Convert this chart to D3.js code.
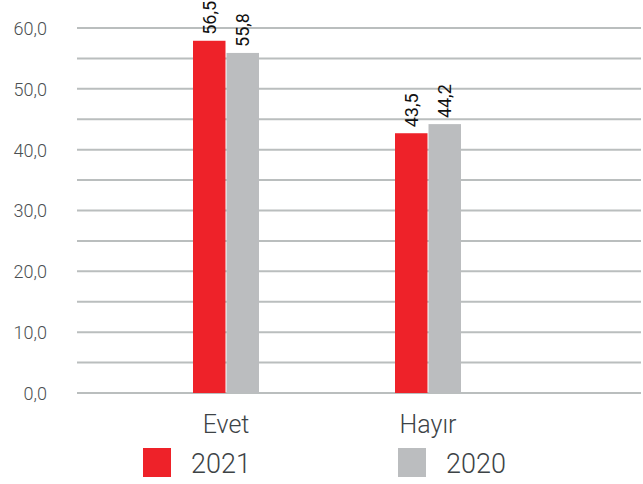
<!DOCTYPE html>
<html><head><meta charset="utf-8">
<script src="https://cdn.jsdelivr.net/npm/d3@7"></script>
<style>body{margin:0;background:#fff;}svg{display:block;font-family:Roboto,"Open Sans",sans-serif;}</style>
</head><body><svg id="c" width="643" height="484"></svg>
<script>
const categories = ["Evet", "Hayır"];
const seriesNames = ["2021", "2020"];
const values2021 = [57.9, 42.7];
const values2020 = [55.9, 44.2];
const labels2021 = ["56,5", "43,5"];
const labels2020 = ["55,8", "44,2"];
const yTicks = [0, 10, 20, 30, 40, 50, 60];
const gridTicks = [0, 5, 10, 15, 20, 25, 30, 35, 40, 45, 50, 55, 60];
const colors = ["#ee2229", "#bbbdbf"];

const svg = d3.select("#c");
const y = d3.scaleLinear().domain([0, 60]).range([393, 28]);
const x = d3.scaleBand().domain(categories).range([125, 529]);
const xs = d3.scaleBand().domain(seriesNames).range([x.bandwidth()/2 - 33, x.bandwidth()/2 + 33]).paddingInner(0.03);

svg.append("g").selectAll("line").data(gridTicks).join("line")
  .attr("x1", 77).attr("x2", 641)
  .attr("y1", d => y(d)).attr("y2", d => y(d))
  .attr("stroke", "#babebe").attr("stroke-width", 2);

const yAxis = d3.axisLeft(y).tickValues(yTicks).tickSize(0).tickPadding(0)
  .tickFormat(d => d3.format(".1f")(d).replace(".", ","));
const ga = svg.append("g").attr("transform", "translate(47,0)").call(yAxis);
ga.select(".domain").remove();
ga.selectAll("text").attr("font-size", 18).attr("fill", "#4b4f52").attr("font-family", "Roboto, sans-serif").attr("font-weight", 300).attr("dy", "0.36em");

const series = [values2021, values2020];
const labels = [labels2021, labels2020];
seriesNames.forEach((s, si) => {
  const g = svg.append("g");
  g.selectAll("rect").data(categories).join("rect")
    .attr("x", c => x(c) + xs(s))
    .attr("width", xs.bandwidth())
    .attr("y", (c, i) => y(series[si][i]))
    .attr("height", (c, i) => y(0) - y(series[si][i]))
    .attr("fill", colors[si]);
  g.selectAll("text").data(categories).join("text")
    .attr("transform", (c, i) => `translate(${x(c) + xs(s) + xs.bandwidth()/2 + 6.5},${y(series[si][i]) - 6}) rotate(-90)`)
    .attr("font-size", 18).attr("fill", "#111")
    .text((c, i) => labels[si][i]);
});

const xAxis = d3.axisBottom(x).tickSize(0).tickPadding(0);
const gx = svg.append("g").attr("transform", "translate(0,433)").call(xAxis);
gx.select(".domain").remove();
gx.selectAll("text").attr("font-size", 25).attr("fill", "#3d4346").attr("font-family", "Roboto, sans-serif").attr("dy", 0).attr("font-weight", 300);

const legendX = [143, 398];
const lg = svg.append("g").selectAll("g").data(seriesNames).join("g")
  .attr("transform", (d, i) => `translate(${legendX[i]},448)`);
lg.append("rect").attr("width", 28).attr("height", 29).attr("fill", (d, i) => colors[i]);
lg.append("text").attr("x", 48).attr("y", 25).attr("font-size", 27).attr("fill", "#3d4346").attr("font-weight", 300).text(d => d);
</script></body></html>
